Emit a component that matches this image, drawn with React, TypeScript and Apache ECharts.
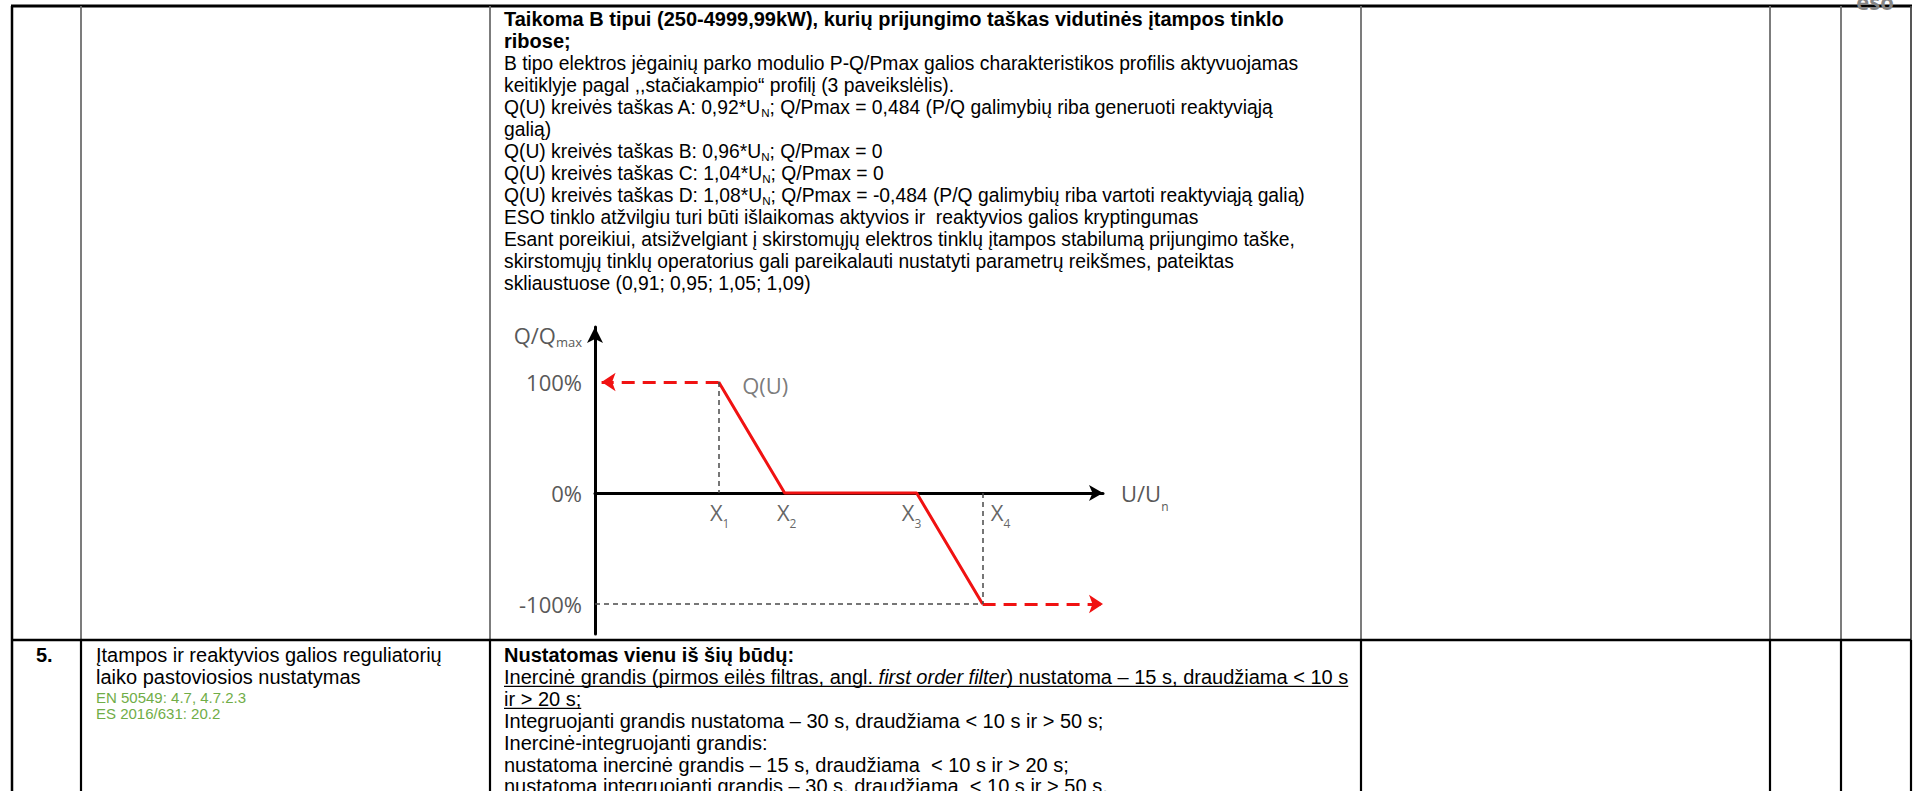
import React, { useEffect, useRef } from 'react';
import * as echarts from 'echarts';

// ---------------- Chart data (schematic Q(U) profile, "3 paveikslėlis") ----------------
const pointSubscripts = ['1', '2', '3', '4'];
const pointU = [0.92, 0.96, 1.04, 1.08]; // U/Un of the curve points X1..X4
const pointQ = [100, 0, 0, -100]; // Q/Qmax in %
const yTickValues = [100, 0, -100];
const yTickLabels = ['100%', '0%', '-100%'];
const xRange = [0.845, 1.153];
const yRange = [-127, 149.5];
const capArrowEndU = 0.849; // tip of the left (generation limit) arrow
const curveName = 'Q(U)';

// ---------------- Table text ----------------
const topRowLines = [
  { t: 'Taikoma B tipui (250-4999,99kW), kurių prijungimo taškas vidutinės įtampos tinklo', bold: true },
  { t: 'ribose;', bold: true },
  { t: 'B tipo elektros jėgainių parko modulio P-Q/Pmax galios charakteristikos profilis aktyvuojamas' },
  { t: 'keitiklyje pagal ,,stačiakampio“ profilį (3 paveikslėlis).' },
  { t: 'Q(U) kreivės taškas A: 0,92*U{sub|N}; Q/Pmax = 0,484 (P/Q galimybių riba generuoti reaktyviąją' },
  { t: 'galią)' },
  { t: 'Q(U) kreivės taškas B: 0,96*U{sub|N}; Q/Pmax = 0' },
  { t: 'Q(U) kreivės taškas C: 1,04*U{sub|N}; Q/Pmax = 0' },
  { t: 'Q(U) kreivės taškas D: 1,08*U{sub|N}; Q/Pmax = -0,484 (P/Q galimybių riba vartoti reaktyviąją galią)' },
  { t: 'ESO tinklo atžvilgiu turi būti išlaikomas aktyvios ir  reaktyvios galios kryptingumas' },
  { t: 'Esant poreikiui, atsižvelgiant į skirstomųjų elektros tinklų įtampos stabilumą prijungimo taške,' },
  { t: 'skirstomųjų tinklų operatorius gali pareikalauti nustatyti parametrų reikšmes, pateiktas' },
  { t: 'skliaustuose (0,91; 0,95; 1,05; 1,09)' },
];

const bottomRowLines = [
  { parts: [{ t: 'Nustatomas vienu iš šių būdų:', bold: true }] },
  {
    parts: [
      { t: 'Inercinė grandis (pirmos eilės filtras, angl. ' },
      { t: 'first order filter', italic: true },
      { t: ') nustatoma – 15 s, draudžiama < 10 s' },
    ],
    underline: true,
  },
  { parts: [{ t: 'ir > 20 s;' }], underline: true },
  { parts: [{ t: 'Integruojanti grandis nustatoma – 30 s, draudžiama < 10 s ir > 50 s;' }] },
  { parts: [{ t: 'Inercinė-integruojanti grandis:' }] },
  { parts: [{ t: 'nustatoma inercinė grandis – 15 s, draudžiama  < 10 s ir > 20 s;' }] },
  { parts: [{ t: 'nustatoma integruojanti grandis – 30 s, draudžiama  < 10 s ir > 50 s.' }] },
];

const itemNumber = '5.';
const itemTitle = ['Įtampos ir reaktyvios galios reguliatorių', 'laiko pastoviosios nustatymas'];
const itemRefs = ['EN 50549: 4.7, 4.7.2.3', 'ES 2016/631: 20.2'];
const logoText = 'eso';

// ---------------- Styles / layout ----------------
const FF = '"Liberation Sans", Arial, sans-serif';
const CF = '"Open Sans", "Noto Sans", sans-serif';
const RED = '#f01212';
const LABEL_GRAY = '#595959';
const COLS = [12, 81, 490, 1361, 1770, 1841, 1911];
const TOP_Y = 6;
const SEP_Y = 640;
const BOTTOM_Y = 791;
const TEXT_X = 504;
const TOP_STEP = 22;
const BOTTOM_STEP = 21.9;
const TOP_FIRST = 19;
const BOTTOM_FIRST = 655;
const TOP_FS = 19.3;

const tok = (fontSize: number, weight = 'normal', style = 'normal', extra: any = {}) => ({
  fontFamily: FF,
  fontSize,
  fontWeight: weight,
  fontStyle: style,
  ...extra,
});

const RICH_BODY: any = {
  sub: tok(11.6, 'normal', 'normal', { lineHeight: 12, verticalAlign: 'bottom' }),
  n: tok(20, 'normal', 'normal', { lineHeight: 22 }),
  b: tok(20, 'bold', 'normal', { lineHeight: 22 }),
  i: tok(20, 'normal', 'italic', { lineHeight: 22 }),
};

function measure(font: string, s: string) {
  const c = document.createElement('canvas').getContext('2d');
  if (!c) return s.length * 10;
  c.font = font;
  return c.measureText(s).width;
}

function textEl(x: number, y: number, text: string, o: any = {}) {
  return {
    type: 'text',
    x,
    y,
    silent: true,
    z: 10,
    style: {
      text,
      fill: '#000',
      fontFamily: FF,
      fontSize: 20,
      fontWeight: 'normal',
      fontStyle: 'normal',
      align: 'left',
      verticalAlign: 'middle',
      lineHeight: 22,
      rich: RICH_BODY,
      ...o,
    },
  };
}

function lineEl(x1: number, y1: number, x2: number, y2: number, stroke: string, lineWidth: number) {
  return { type: 'line', silent: true, z: 5, shape: { x1, y1, x2, y2 }, style: { stroke, lineWidth } };
}

function buildGraphics() {
  const g: any[] = [];
  // table borders
  g.push(lineEl(COLS[0] - 1, TOP_Y, COLS[6] + 1, TOP_Y, '#000', 3));
  g.push(lineEl(COLS[0], TOP_Y, COLS[0], BOTTOM_Y, '#000', 2.5));
  for (let i = 1; i < COLS.length; i++) {
    g.push(lineEl(COLS[i], TOP_Y, COLS[i], SEP_Y, i === COLS.length - 1 ? '#444' : '#6e6e6e', 1.8));
    g.push(lineEl(COLS[i], SEP_Y, COLS[i], BOTTOM_Y, '#000', 2.2));
  }
  g.push(lineEl(COLS[0], SEP_Y, COLS[6], SEP_Y, '#000', 2.5));

  // top row, text column
  topRowLines.forEach((l, i) => {
    g.push(
      textEl(
        TEXT_X,
        TOP_FIRST + i * TOP_STEP,
        l.t,
        l.bold ? { fontWeight: 'bold', fontSize: 20 } : { fontSize: TOP_FS }
      )
    );
  });

  // bottom row, text column
  bottomRowLines.forEach((l, i) => {
    const y = BOTTOM_FIRST + i * BOTTOM_STEP;
    const text = l.parts.map((p: any) => `{${p.bold ? 'b' : p.italic ? 'i' : 'n'}|${p.t}}`).join('');
    g.push(textEl(TEXT_X, y, text));
    if (l.underline) {
      const w = l.parts.reduce(
        (acc: number, p: any) =>
          acc + measure(`${p.italic ? 'italic ' : ''}${p.bold ? 'bold ' : ''}20px ${FF}`, p.t),
        0
      );
      g.push(lineEl(TEXT_X, y + 9.5, TEXT_X + w, y + 9.5, '#000', 1.3));
    }
  });

  // item number and title
  g.push(textEl(36, BOTTOM_FIRST, itemNumber, { fontWeight: 'bold' }));
  itemTitle.forEach((t, i) => g.push(textEl(96, BOTTOM_FIRST + i * BOTTOM_STEP, t)));
  itemRefs.forEach((t, i) =>
    g.push(
      textEl(96, BOTTOM_FIRST + 2 * BOTTOM_STEP - 1 + i * 16, t, { fontSize: 15, lineHeight: 16, fill: '#70ad47' })
    )
  );

  // logo fragment at the very top
  g.push(
    textEl(1875, 1, logoText, { align: 'center', fontSize: 22, fontWeight: 'bold', fill: '#858585', fontFamily: CF })
  );
  return g;
}

function buildOption(): any {
  const curve = pointU.map((u, i) => [u, pointQ[i]]);
  const last = pointU.length - 1;
  const xLabelShift = [1, 2, -5, 18];
  const subRich = (main: number, lh: number, sub: number, subLh: number, color: string) => ({
    a: { fontFamily: CF, fontSize: main, lineHeight: lh, color },
    s: { fontFamily: CF, fontSize: sub, lineHeight: subLh, verticalAlign: 'bottom', color },
  });

  return {
    animation: false,
    backgroundColor: '#ffffff',
    graphic: buildGraphics(),
    grid: { left: 595, top: 327, width: 508, height: 307, containLabel: false, outerBoundsMode: 'none' },
    xAxis: {
      type: 'value',
      min: xRange[0],
      max: xRange[1],
      axisLine: {
        show: true,
        onZero: true,
        lineStyle: { color: '#000', width: 3 },
        symbol: ['none', 'arrow'],
        symbolSize: [12, 14],
      },
      axisTick: { show: false },
      axisLabel: { show: false },
      splitLine: { show: false },
      name: '{a|U/U}{s|n}',
      nameLocation: 'end',
      nameGap: 18,
      nameTextStyle: { align: 'left', verticalAlign: 'middle', rich: subRich(22, 40, 12, 12, LABEL_GRAY) },
    },
    yAxis: {
      type: 'value',
      min: yRange[0],
      max: yRange[1],
      axisLine: {
        show: true,
        onZero: false,
        lineStyle: { color: '#000', width: 3 },
        symbol: ['none', 'arrow'],
        symbolSize: [12, 16],
      },
      axisTick: { show: false },
      splitLine: { show: false },
      axisLabel: {
        show: true,
        customValues: yTickValues,
        formatter: (v: number) => yTickLabels[yTickValues.indexOf(v)] ?? '',
        margin: 13,
        color: LABEL_GRAY,
        fontFamily: CF,
        fontSize: 22,
      },
      name: '{a|Q/Q}{s|max}',
      nameLocation: 'end',
      nameGap: 5,
      nameTextStyle: {
        align: 'right',
        verticalAlign: 'top',
        padding: [0, 13, 0, 0],
        rich: subRich(22, 26, 13, 16, LABEL_GRAY),
      },
    },
    series: [
      {
        name: curveName,
        type: 'line',
        data: curve,
        symbol: 'none',
        lineStyle: { color: RED, width: 3 },
        z: 4,
      },
      {
        name: 'limits',
        type: 'line',
        data: [],
        z: 4,
        markLine: {
          silent: true,
          symbol: ['none', 'arrow'],
          symbolSize: 14,
          label: { show: false },
          lineStyle: { color: RED, width: 3, type: [13, 8] },
          data: [
            [{ coord: [pointU[0], pointQ[0]] }, { coord: [capArrowEndU, pointQ[0]] }],
            [{ coord: [pointU[last], pointQ[last]] }, { coord: [xRange[1], pointQ[last]] }],
          ],
        },
      },
      {
        name: 'guides',
        type: 'line',
        data: [],
        z: 3,
        markLine: {
          silent: true,
          symbol: ['none', 'none'],
          label: { show: false },
          lineStyle: { color: '#4a4a4a', width: 1.5, type: [5, 4] },
          data: [
            [{ coord: [pointU[0], pointQ[0]] }, { coord: [pointU[0], 0] }],
            [{ coord: [pointU[last], 0] }, { coord: [pointU[last], pointQ[last]] }],
            [{ coord: [xRange[0], pointQ[last]] }, { coord: [pointU[last], pointQ[last]] }],
          ],
        },
      },
      {
        name: 'curveLabel',
        type: 'scatter',
        symbolSize: 1,
        itemStyle: { color: 'rgba(0,0,0,0)' },
        data: [[pointU[0], pointQ[0]]],
        label: {
          show: true,
          position: 'right',
          distance: 23,
          offset: [0, 3],
          formatter: curveName,
          color: LABEL_GRAY,
          fontFamily: CF,
          fontSize: 22,
        },
        z: 5,
      },
      {
        name: 'pointLabels',
        type: 'scatter',
        symbolSize: 1,
        itemStyle: { color: 'rgba(0,0,0,0)' },
        data: pointU.map((u, i) => ({
          value: [u, 0],
          label: { offset: [xLabelShift[i], 0] },
        })),
        label: {
          show: true,
          position: 'bottom',
          distance: 2,
          formatter: (p: any) => `{a|X}{s|${pointSubscripts[p.dataIndex]}}`,
          rich: subRich(22, 34, 12, 12, '#3d3d3d'),
        },
        z: 5,
      },
    ],
  };
}

export default function App() {
  const ref = useRef<HTMLDivElement>(null);
  useEffect(() => {
    if (!ref.current) return;
    const chart = echarts.init(ref.current, null, { renderer: 'svg', width: 1915, height: 791 });
    chart.setOption(buildOption());
    return () => chart.dispose();
  }, []);
  return (
    <div
      ref={ref}
      style={{ position: 'fixed', left: 0, top: 0, width: 1915, height: 791, background: '#fff' }}
    />
  );
}
